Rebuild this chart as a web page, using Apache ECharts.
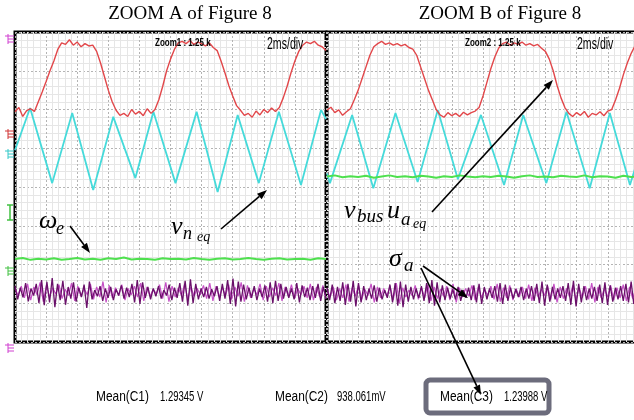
<!DOCTYPE html>
<html>
<head>
<meta charset="utf-8">
<title>ZOOM A / ZOOM B of Figure 8</title>
<script src="https://cdn.jsdelivr.net/npm/echarts@6/dist/echarts.min.js"></script>
<style>
  html, body { margin: 0; padding: 0; background: #fff; }
  #chart { width: 634px; height: 420px; }
</style>
</head>
<body>
<div id="chart"></div>
<script>
// x axis: time in ms (2 ms/div, 10 div), y axis: scope divisions (-4..4)
var panelTitles = ['ZOOM A of Figure 8', 'ZOOM B of Figure 8'];
var zoomLabels = ['Zoom1 : 1.25 k', 'Zoom2 : 1.25 k'];
var timeScale = '2ms/div';
var meanNames = ['Mean(C1)', 'Mean(C2)', 'Mean(C3)'];
var meanValues = ['1.29345 V', '938.061mV', '1.23988 V'];

// red trace, sampled every 0.25 ms
var redA = [1.94, 2.05, 1.82, 1.97, 2.02, 1.95, 2.20, 2.45, 2.72, 3.00,
  3.25, 3.55, 3.72, 3.68, 3.80, 3.66, 3.74, 3.62, 3.70, 3.64,
  3.66, 3.50, 3.20, 2.85, 2.50, 2.20, 1.98, 1.85, 1.90, 1.82,
  2.00, 1.88, 1.95, 1.84, 2.02, 1.90, 2.00, 2.25, 2.60, 3.00,
  3.30, 3.55, 3.72, 3.76, 3.70, 3.78, 3.68, 3.74, 3.70, 3.64,
  3.72, 3.60, 3.52, 3.25, 2.95, 2.62, 2.35, 2.10, 1.98, 1.85,
  1.90, 1.80, 1.96, 1.86, 2.00, 1.92, 2.04, 1.95, 2.05, 2.30,
  2.60, 2.95, 3.25, 3.50, 3.66, 3.74, 3.70, 3.76, 3.66, 3.62, 3.52];
var redB = [1.98, 2.06, 1.92, 1.99, 1.85, 1.94, 2.02, 2.25, 2.50, 2.80,
  3.10, 3.40, 3.62, 3.70, 3.76, 3.68, 3.72, 3.66, 3.70, 3.64,
  3.68, 3.60, 3.56, 3.40, 3.10, 2.80, 2.50, 2.25, 2.00, 1.86,
  1.80, 1.92, 1.84, 1.90, 1.82, 1.93, 1.86, 1.92, 1.96, 2.05,
  2.35, 2.70, 3.05, 3.35, 3.58, 3.70, 3.74, 3.66, 3.72, 3.68,
  3.74, 3.66, 3.70, 3.64, 3.68, 3.58, 3.50, 3.30, 3.00, 2.62,
  2.30, 2.05, 1.90, 1.82, 1.92, 1.85, 1.95, 1.80, 1.90, 1.86,
  1.94, 1.84, 1.96, 2.00, 2.25, 2.55, 2.90, 3.20, 3.45, 3.65, 3.75];

// cyan triangle wave: turning points
var cyanATime = [0, 0.97, 2.39, 3.68, 5.03, 6.32, 7.74, 8.90, 10.32, 11.68, 13.03, 14.32, 15.68, 16.97, 18.39, 19.68, 20];
var cyanAVal = [0.95, 2.04, 0.10, 1.91, -0.08, 1.81, 0.23, 1.94, 0.10, 1.94, -0.13, 1.86, 0.10, 1.94, 0.05, 1.99, 1.75];
var cyanBTime = [0, 0.19, 1.61, 2.97, 4.39, 5.81, 7.10, 8.39, 9.87, 11.35, 12.58, 14.06, 15.35, 16.84, 18.13, 19.42, 20];
var cyanBVal = [0.35, 0.10, 1.86, -0.03, 1.91, 0.13, 1.99, 0.20, 1.86, 0.05, 1.86, 0.10, 1.94, -0.03, 1.91, 0.05, 0.80];

// green trace, every 0.5 ms
var greenA = [-1.86, -1.83, -1.88, -1.85, -1.87, -1.84, -1.88, -1.86, -1.83, -1.87,
  -1.85, -1.88, -1.84, -1.86, -1.82, -1.87, -1.85, -1.86, -1.88, -1.84,
  -1.86, -1.85, -1.87, -1.83, -1.86, -1.88, -1.85, -1.84, -1.87, -1.86,
  -1.83, -1.86, -1.88, -1.85, -1.84, -1.87, -1.86, -1.85, -1.88, -1.84, -1.86];
var greenB = [0.27, 0.30, 0.25, 0.28, 0.26, 0.29, 0.24, 0.27, 0.30, 0.26,
  0.28, 0.25, 0.29, 0.27, 0.24, 0.28, 0.26, 0.30, 0.27, 0.25,
  0.28, 0.26, 0.29, 0.27, 0.24, 0.28, 0.30, 0.26, 0.27, 0.25,
  0.29, 0.27, 0.26, 0.30, 0.25, 0.28, 0.27, 0.24, 0.29, 0.26, 0.28];

// purple (sigma) noise band, evenly spaced over 20 ms: dark trace + lighter trace
var purpleA = [-2.55, -2.90, -2.60, -2.85, -2.48, -2.95, -2.62, -2.80, -2.50, -3.00,
  -2.40, -3.05, -2.45, -2.98, -2.35, -3.10, -2.50, -2.92, -2.42, -3.04,
  -2.58, -2.88, -2.46, -2.96, -2.60, -2.84, -2.52, -3.12, -2.44, -2.90,
  -2.66, -2.82, -2.56, -2.94, -2.62, -2.86, -2.58, -2.92, -2.64, -2.80,
  -2.54, -2.88, -2.60, -2.84, -2.50, -2.98, -2.40, -3.02, -2.46, -2.86,
  -2.58, -2.90, -2.62, -2.82, -2.56, -2.88, -2.66, -2.80, -2.52, -2.92,
  -2.60, -2.86, -2.48, -2.96, -2.42, -3.06, -2.38, -3.00, -2.50, -2.90,
  -2.62, -2.84, -2.58, -2.88, -2.64, -2.82, -2.56, -2.94, -2.50, -2.88,
  -2.40, -3.02, -2.36, -3.08, -2.44, -2.96, -2.52, -2.90, -2.60, -2.86,
  -2.56, -2.92, -2.62, -2.84, -2.54, -2.96, -2.46, -3.00, -2.42, -2.94,
  -2.50, -2.88, -2.58, -2.86, -2.62, -2.90, -2.48, -2.98, -2.54, -2.84,
  -2.60, -2.92, -2.56, -2.86, -2.50, -2.94, -2.58, -2.88];
var purpleA2 = [-2.62, -2.80, -2.56, -2.86, -2.50, -2.92, -2.58, -2.78, -2.46, -2.96,
  -2.54, -2.84, -2.60, -2.76, -2.52, -2.88, -2.64, -2.80, -2.48, -2.94,
  -2.56, -2.82, -2.62, -2.78, -2.50, -2.90, -2.58, -2.84, -2.44, -2.98,
  -2.54, -2.86, -2.60, -2.80, -2.52, -2.92, -2.62, -2.78, -2.56, -2.84,
  -2.48, -2.94, -2.58, -2.82, -2.64, -2.76, -2.52, -2.88, -2.46, -2.96,
  -2.56, -2.84, -2.60, -2.80, -2.50, -2.90, -2.58, -2.82, -2.62, -2.78,
  -2.54, -2.88, -2.48, -2.94, -2.56, -2.84, -2.60, -2.80, -2.52, -2.90,
  -2.58, -2.82, -2.46, -2.96, -2.54, -2.86, -2.62, -2.78, -2.50, -2.92,
  -2.56, -2.84, -2.60, -2.80, -2.48, -2.94, -2.58, -2.82, -2.52, -2.88,
  -2.62, -2.78, -2.56, -2.86, -2.50, -2.92, -2.58, -2.84, -2.54, -2.88];
var purpleB = [-2.60, -2.92, -2.52, -3.00, -2.58, -2.94, -2.46, -3.04, -2.50, -2.96,
  -2.42, -3.08, -2.48, -2.98, -2.56, -2.92, -2.62, -2.88, -2.54, -2.96,
  -2.60, -2.90, -2.66, -2.86, -2.52, -2.98, -2.48, -3.06, -2.44, -3.10,
  -2.52, -2.96, -2.58, -2.90, -2.62, -2.86, -2.56, -2.94, -2.48, -3.00,
  -2.40, -3.06, -2.46, -2.98, -2.54, -2.92, -2.60, -2.88, -2.64, -2.90,
  -2.58, -2.94, -2.66, -2.86, -2.60, -2.92, -2.54, -2.98, -2.50, -3.02,
  -2.58, -2.90, -2.62, -2.86, -2.56, -2.96, -2.48, -3.02, -2.52, -2.94,
  -2.60, -2.88, -2.64, -2.84, -2.58, -2.92, -2.62, -2.88, -2.56, -2.94,
  -2.50, -3.00, -2.44, -3.06, -2.52, -2.96, -2.58, -2.90, -2.62, -2.86,
  -2.56, -2.94, -2.48, -3.04, -2.42, -3.08, -2.50, -2.98, -2.56, -2.92,
  -2.62, -2.88, -2.58, -2.94, -2.52, -3.00, -2.46, -3.04, -2.54, -2.96,
  -2.60, -2.90, -2.56, -2.94, -2.50, -2.98, -2.44, -3.02, -2.52, -2.94];
var purpleB2 = [-2.66, -2.84, -2.58, -2.92, -2.62, -2.86, -2.52, -2.96, -2.60, -2.82,
  -2.54, -2.90, -2.64, -2.80, -2.50, -2.98, -2.58, -2.86, -2.62, -2.82,
  -2.56, -2.92, -2.48, -3.00, -2.60, -2.84, -2.66, -2.80, -2.54, -2.90,
  -2.60, -2.86, -2.52, -2.94, -2.58, -2.88, -2.64, -2.82, -2.56, -2.92,
  -2.50, -2.98, -2.60, -2.84, -2.62, -2.82, -2.54, -2.92, -2.58, -2.86,
  -2.64, -2.80, -2.56, -2.90, -2.50, -2.96, -2.60, -2.86, -2.54, -2.92,
  -2.62, -2.84, -2.58, -2.88, -2.52, -2.94, -2.60, -2.84, -2.64, -2.80,
  -2.56, -2.90, -2.50, -2.98, -2.58, -2.88, -2.62, -2.84, -2.54, -2.92,
  -2.60, -2.86, -2.56, -2.90, -2.48, -2.98, -2.58, -2.86, -2.62, -2.84,
  -2.54, -2.92, -2.60, -2.86, -2.52, -2.94, -2.58, -2.88, -2.62, -2.84];

var chart = echarts.init(document.getElementById('chart'));

function evenly(vals) {
  return vals.map(function (v, i) { return [i * 20 / (vals.length - 1), v]; });
}
function pairs(t, v) {
  return t.map(function (x, i) { return [x, v[i]]; });
}
function gridLines(axis) {
  axis.axisLine = { show: false };
  axis.axisTick = { show: false };
  axis.axisLabel = { show: false };
  axis.splitLine = { show: true, lineStyle: { color: '#b4b4b4', type: [2, 2] } };
  axis.minorTick = { show: false, splitNumber: 5 };
  axis.minorSplitLine = { show: true, lineStyle: { color: '#e6e6e6' } };
  return axis;
}
function xAxis(gi) {
  return gridLines({ type: 'value', gridIndex: gi, min: 0, max: 20, interval: 2 });
}
function yAxis(gi) {
  return gridLines({ type: 'value', gridIndex: gi, min: -4, max: 4, interval: 1 });
}
function trace(gi, data, color, width) {
  return {
    type: 'line', xAxisIndex: gi, yAxisIndex: gi, data: data,
    symbol: 'none', silent: true,
    lineStyle: { color: color, width: width }
  };
}

var serif = '"Liberation Serif", "Times New Roman", serif';
var sans = '"Liberation Sans Narrow", "Liberation Sans", sans-serif';

function txt(x, y, s, font, align, sx) {
  return {
    type: 'text', z: 100, x: x, y: y, scaleX: sx || 1,
    style: {
      x: 0, y: 0, text: s, font: font, fill: '#000',
      align: align || 'left', verticalAlign: 'middle',
      textAlign: align || 'left', textVerticalAlign: 'middle'
    }
  };
}
function arrow(x1, y1, x2, y2) {
  var a = Math.atan2(y2 - y1, x2 - x1), L = 10, W = 3.6;
  var bx = x2 - L * Math.cos(a), by = y2 - L * Math.sin(a);
  var px = -Math.sin(a) * W, py = Math.cos(a) * W;
  return [
    { type: 'line', z: 100, shape: { x1: x1, y1: y1, x2: bx, y2: by }, style: { stroke: '#000', lineWidth: 1.6 } },
    { type: 'polygon', z: 100, shape: { points: [[x2, y2], [bx + px, by + py], [bx - px, by - py]] }, style: { fill: '#000' } }
  ];
}
function marker(y, color) {
  var s = { stroke: color, lineWidth: 1 };
  return [
    { type: 'line', z: 100, shape: { x1: 8, y1: y - 5, x2: 8, y2: y + 5 }, style: s },
    { type: 'line', z: 100, shape: { x1: 5, y1: y - 3, x2: 14, y2: y - 3 }, style: s },
    { type: 'line', z: 100, shape: { x1: 8, y1: y, x2: 14, y2: y }, style: s },
    { type: 'line', z: 100, shape: { x1: 8, y1: y + 3, x2: 14, y2: y + 3 }, style: s }
  ];
}

var graphics = [
  txt(190, 14, panelTitles[0], '19px ' + serif, 'center'),
  txt(500, 14, panelTitles[1], '19px ' + serif, 'center'),
  txt(155, 43, zoomLabels[0], 'bold 10px ' + sans, 'left', 0.8),
  txt(267, 45, timeScale, '16px ' + sans, 'left', 0.66),
  txt(465, 43, zoomLabels[1], 'bold 10px ' + sans, 'left', 0.8),
  txt(577, 45, timeScale, '16px ' + sans, 'left', 0.66),
  txt(96, 397, meanNames[0], '14px ' + sans, 'left', 0.85),
  txt(160, 397, meanValues[0], '14px ' + sans, 'left', 0.68),
  txt(275, 397, meanNames[1], '14px ' + sans, 'left', 0.85),
  txt(337, 397, meanValues[1], '14px ' + sans, 'left', 0.68),
  {
    type: 'rect', z: 90,
    shape: { x: 426, y: 380, width: 123, height: 33, r: 4 },
    style: { fill: '#fff', stroke: '#6c6c7c', lineWidth: 5 }
  },
  txt(440, 397, meanNames[2], '14px ' + sans, 'left', 0.85),
  txt(504, 397, meanValues[2], '14px ' + sans, 'left', 0.68),
  // math labels
  txt(39, 221, 'ω', 'italic 26px ' + serif),
  txt(56, 229, 'e', 'italic 18px ' + serif),
  txt(171, 227, 'v', 'italic 26px ' + serif),
  txt(183, 234, 'n', 'italic 18px ' + serif),
  txt(197, 237, 'eq', 'italic 14px ' + serif),
  txt(344, 211, 'v', 'italic 26px ' + serif),
  txt(357, 217, 'bus', 'italic 19px ' + serif),
  txt(387, 211, 'u', 'italic 26px ' + serif),
  txt(401, 220, 'a', 'italic 19px ' + serif),
  txt(413, 224, 'eq', 'italic 14px ' + serif),
  txt(389, 259, 'σ', 'italic 26px ' + serif),
  txt(404, 266, 'a', 'italic 19px ' + serif)
];
graphics = graphics
  .concat(arrow(70, 226, 90, 253))
  .concat(arrow(221, 229, 267, 190))
  .concat(arrow(432, 212, 553, 80))
  .concat(arrow(423, 266, 468, 298))
  .concat(arrow(421, 268, 481, 395))
  .concat(marker(39, '#d040d0'))
  .concat(marker(134, '#d03535'))
  .concat(marker(154, '#35c8c8'))
  .concat(marker(271, '#40c040'))
  .concat(marker(348, '#d040d0'))
  .concat([
    { type: 'line', z: 100, shape: { x1: 10, y1: 205, x2: 10, y2: 220 }, style: { stroke: '#40c040', lineWidth: 1.5 } },
    { type: 'line', z: 100, shape: { x1: 7, y1: 205, x2: 13, y2: 205 }, style: { stroke: '#40c040', lineWidth: 1.5 } },
    { type: 'line', z: 100, shape: { x1: 7, y1: 220, x2: 13, y2: 220 }, style: { stroke: '#40c040', lineWidth: 1.5 } }
  ]);

chart.setOption({
  animation: false,
  backgroundColor: '#fff',
  grid: [
    { left: 15, top: 32, width: 311, height: 310, show: true, borderColor: '#000', borderWidth: 3,
      containLabel: false, outerBoundsMode: 'none' },
    { left: 327, top: 32, width: 312, height: 310, show: true, borderColor: '#000', borderWidth: 3,
      containLabel: false, outerBoundsMode: 'none' }
  ],
  xAxis: [xAxis(0), xAxis(1)],
  yAxis: [yAxis(0), yAxis(1)],
  series: [
    trace(0, evenly(purpleA2), '#c650c6', 1.2),
    trace(1, evenly(purpleB2), '#c650c6', 1.2),
    trace(0, evenly(purpleA), '#6a106a', 1.3),
    trace(1, evenly(purpleB), '#6a106a', 1.3),
    trace(0, pairs(cyanATime, cyanAVal), '#45dada', 1.8),
    trace(1, pairs(cyanBTime, cyanBVal), '#45dada', 1.8),
    trace(0, evenly(redA), '#e2474a', 1.4),
    trace(1, evenly(redB), '#e2474a', 1.4),
    trace(0, evenly(greenA), '#4ee04e', 2),
    trace(1, evenly(greenB), '#4ee04e', 2)
  ],
  graphic: graphics
});
</script>
</body>
</html>
